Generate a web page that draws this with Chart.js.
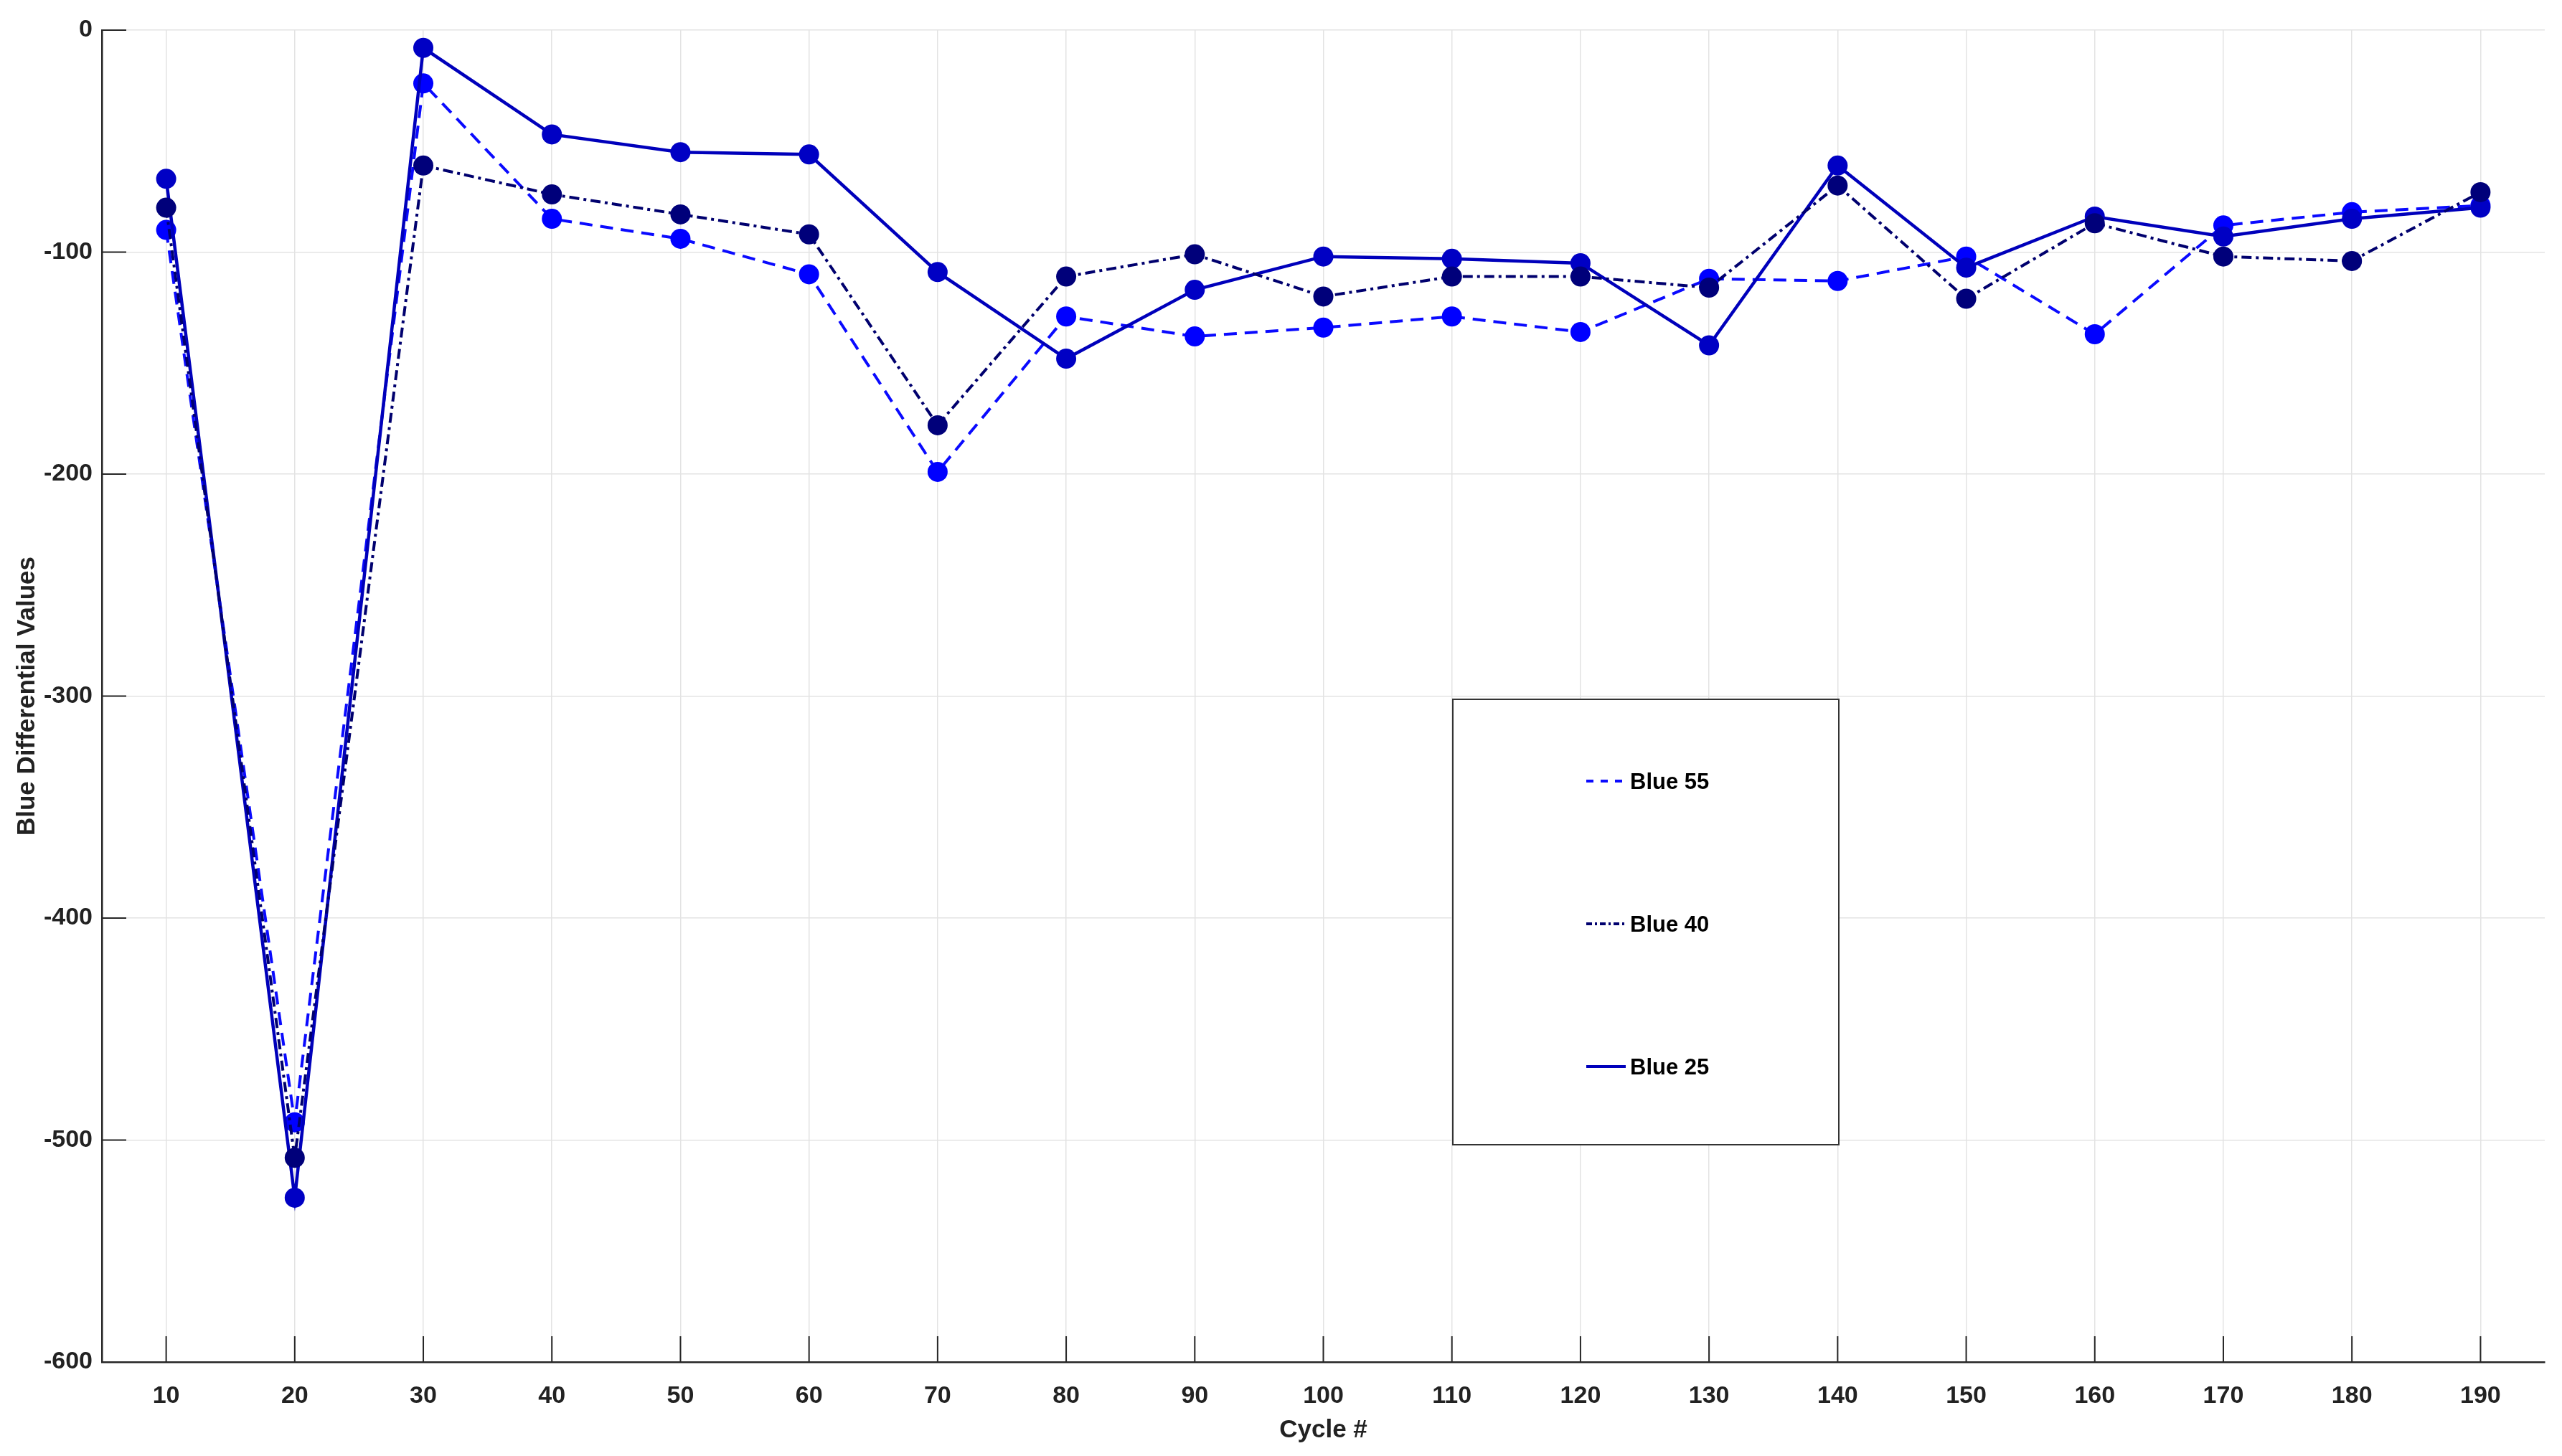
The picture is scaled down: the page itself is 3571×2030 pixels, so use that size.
<!DOCTYPE html>
<html>
<head>
<script src="https://cdn.jsdelivr.net/npm/chart.js"></script>
<style> body { margin: 0; background: white; } #wrap { width: 3571px; height: 2030px; } </style>
</head>
<body>
<div id="wrap"><canvas id="myChart" width="3571" height="2030"></canvas></div>
<script>
    const cycles = [10, 20, 30, 40, 50, 60, 70, 80, 90, 100, 110, 120, 130, 140, 150, 160, 170, 180, 190];
    const blue55 = [-90, -492, -24, -85, -94, -110, -199, -129, -138, -134, -129, -136, -112, -113, -102, -137, -88, -82, -79];
    const blue40 = [-80, -508, -61, -74, -83, -92, -178, -111, -101, -120, -111, -111, -116, -70, -121, -87, -102, -104, -73];
    const blue25 = [-67, -526, -8, -47, -55, -56, -109, -148, -117, -102, -103, -105, -142, -61, -107, -84, -93, -85, -80];
    const xTicks = [10, 20, 30, 40, 50, 60, 70, 80, 90, 100, 110, 120, 130, 140, 150, 160, 170, 180, 190];
    const yTicks = [-600, -500, -400, -300, -200, -100, 0];

    const txt = '#222222';
    const font = (size) => ({ family: "'Liberation Sans', Arial, sans-serif", size: size, weight: 'bold' });

    function pts(ys) {
        return cycles.map((c, i) => ({ x: c, y: ys[i] }));
    }

    // ticks drawn inward from the left and bottom axes, like the original
    const innerTicks = {
        id: 'innerTicks',
        beforeDatasetsDraw(chart) {
            const ctx = chart.ctx;
            const x = chart.scales.x, y = chart.scales.y;
            ctx.save();
            ctx.strokeStyle = '#262626';
            ctx.lineWidth = 2;
            ctx.beginPath();
            x.ticks.forEach(t => {
                const px = x.getPixelForValue(t.value);
                ctx.moveTo(px, y.bottom);
                ctx.lineTo(px, y.bottom - 36);
            });
            y.ticks.forEach(t => {
                const py = y.getPixelForValue(t.value);
                ctx.moveTo(x.left, py);
                ctx.lineTo(x.left + 34, py);
            });
            ctx.stroke();
            ctx.restore();
        }
    };

    const boxLegend = {
        id: 'boxLegend',
        afterDatasetsDraw(chart, args, opts) {
            const ctx = chart.ctx;
            const b = opts.box;
            ctx.save();
            ctx.fillStyle = '#ffffff';
            ctx.fillRect(b.left, b.top, b.width, b.height);
            ctx.strokeStyle = '#333333';
            ctx.lineWidth = 2;
            ctx.strokeRect(b.left, b.top, b.width, b.height);
            chart.data.datasets.forEach((ds, i) => {
                const ry = b.top + opts.firstRow + i * opts.rowGap;
                ctx.strokeStyle = ds.borderColor;
                ctx.lineWidth = 4;
                ctx.setLineDash(opts.dashes[i]);
                ctx.beginPath();
                ctx.moveTo(b.left + 186, ry);
                ctx.lineTo(b.left + 241, ry);
                ctx.stroke();
                ctx.setLineDash([]);
                ctx.fillStyle = '#000000';
                ctx.font = "bold 31px 'Liberation Sans', Arial, sans-serif";
                ctx.textBaseline = 'middle';
                ctx.fillText(ds.label, b.left + 247, ry + 2);
            });
            ctx.restore();
        }
    };

    const ctx = document.getElementById('myChart').getContext('2d');
    new Chart(ctx, {
        type: 'line',
        data: {
            datasets: [
                {
                    label: 'Blue 55',
                    data: pts(blue55),
                    borderColor: '#0a0aff',
                    backgroundColor: '#0000ff',
                    pointBackgroundColor: '#0000ff',
                    borderWidth: 4,
                    borderDash: [18, 11],
                    pointRadius: 14,
                    pointBorderWidth: 0,
                    order: 2
                },
                {
                    label: 'Blue 40',
                    data: pts(blue40),
                    borderColor: '#00006e',
                    backgroundColor: '#00007a',
                    pointBackgroundColor: '#00007a',
                    borderWidth: 4,
                    borderDash: [14, 6, 4, 6],
                    pointRadius: 14,
                    pointBorderWidth: 0,
                    order: 0
                },
                {
                    label: 'Blue 25',
                    data: pts(blue25),
                    borderColor: '#0000bb',
                    backgroundColor: '#0000c4',
                    pointBackgroundColor: '#0000c4',
                    borderWidth: 4.5,
                    pointRadius: 14,
                    pointBorderWidth: 0,
                    order: 1
                }
            ]
        },
        options: {
            responsive: false,
            animation: false,
            layout: { padding: { top: 42, right: 24, left: 0, bottom: 0 } },
            plugins: {
                legend: { display: false },
                tooltip: { enabled: false },
                boxLegend: {
                    box: { left: 2025, top: 975, width: 538, height: 621 },
                    firstRow: 114,
                    rowGap: 199,
                    dashes: [[10, 10], [8, 4, 3, 4], []]
                }
            },
            scales: {
                x: {
                    type: 'linear',
                    min: 5,
                    max: 195,
                    afterBuildTicks: (scale) => { scale.ticks = xTicks.map(v => ({ value: v })); },
                    afterFit: (scale) => { scale.height = 131; },
                    grid: { color: '#e3e3e3', lineWidth: 1.5, drawTicks: false },
                    border: { display: true, color: '#262626', width: 2.5 },
                    ticks: { color: txt, font: font(34), padding: 27, maxRotation: 0, autoSkip: false },
                    title: { display: true, text: 'Cycle #', color: txt, font: font(35), padding: { top: 0, bottom: 15 } }
                },
                y: {
                    type: 'linear',
                    min: -600,
                    max: 0,
                    afterBuildTicks: (scale) => { scale.ticks = yTicks.map(v => ({ value: v })); },
                    afterFit: (scale) => { scale.width = 142; },
                    grid: { color: '#e3e3e3', lineWidth: 1.5, drawTicks: false },
                    border: { display: true, color: '#262626', width: 2.5 },
                    ticks: { color: txt, font: font(34), padding: 13 },
                    title: { display: true, text: 'Blue Differential Values', color: txt, font: font(35), padding: { top: 17, bottom: 0 } }
                }
            }
        },
        plugins: [innerTicks, boxLegend]
    });
</script>
</body>
</html>
